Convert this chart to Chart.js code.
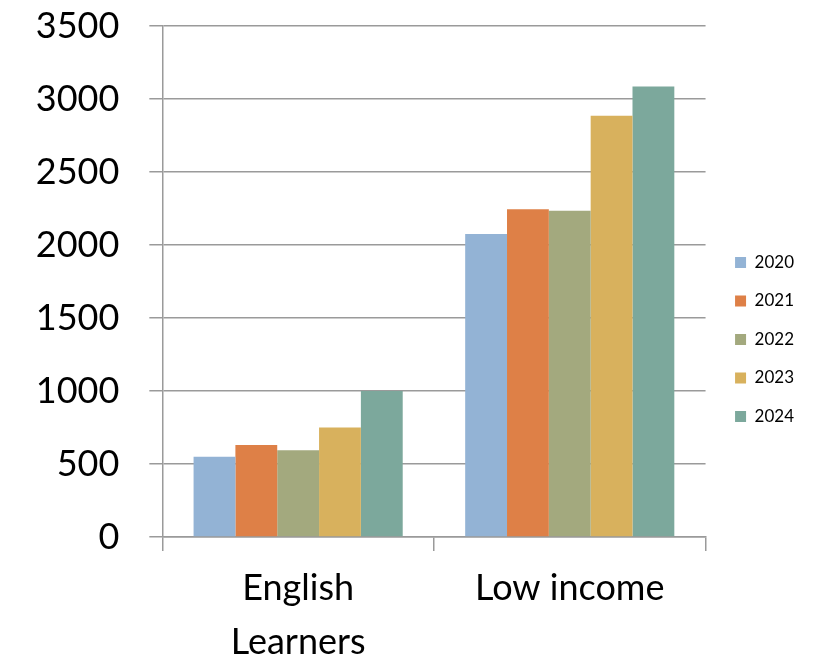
<!DOCTYPE html>
<html>
<head>
<meta charset="utf-8">
<script src="https://cdn.jsdelivr.net/npm/chart.js@4/dist/chart.umd.min.js"></script>
<style>
  html, body { margin: 0; padding: 0; background: #fff; }
  #wrap { width: 818px; height: 663px; }
</style>
</head>
<body>
<div id="wrap"><canvas id="chart"></canvas></div>
<script>
// categories (x axis) and one series per year
const categories = [['English', 'Learners'], 'Low income'];
const years = ['2020', '2021', '2022', '2023', '2024'];
const values2020 = [550, 2075];
const values2021 = [630, 2245];
const values2022 = [595, 2235];
const values2023 = [750, 2885];
const values2024 = [1000, 3085];
const yTicks = [0, 500, 1000, 1500, 2000, 2500, 3000, 3500];

const series = [values2020, values2021, values2022, values2023, values2024];
const colors = ['#93b3d5', '#de8047', '#a3a97e', '#d8b15d', '#7ca89c'];
const gridColor = '#9a9a9a';
const fontFamily = 'Lato, "Noto Sans", sans-serif';

const ctx = document.getElementById('chart').getContext('2d');
new Chart(ctx, {
  type: 'bar',
  data: {
    labels: categories,
    datasets: years.map((y, i) => ({
      label: y,
      data: series[i],
      backgroundColor: colors[i],
      borderWidth: 0,
      categoryPercentage: 0.77,
      barPercentage: 1.0
    }))
  },
  options: {
    responsive: true,
    maintainAspectRatio: false,
    animation: false,
    layout: { padding: { left: 34, top: 0, right: 14, bottom: -16 } },
    plugins: {
      tooltip: { enabled: false },
      legend: {
        position: 'right',
        labels: {
          boxWidth: 11,
          boxHeight: 11,
          padding: 21.5,
          color: '#000',
          font: { family: fontFamily, size: 17 }
        }
      }
    },
    scales: {
      x: {
        offset: true,
        grid: {
          offset: true,
          drawOnChartArea: false,
          drawTicks: true,
          tickLength: 14,
          color: gridColor,
          lineWidth: 1.5
        },
        border: { display: true, color: gridColor, width: 1.5 },
        ticks: {
          color: '#000',
          padding: 10,
          font: { family: fontFamily, size: 36, lineHeight: 1.5 },
          maxRotation: 0
        }
      },
      y: {
        min: 0,
        max: 3500,
        afterBuildTicks: axis => { axis.ticks = yTicks.map(v => ({ value: v })); },
        // tick padding would otherwise push the plot down from the top
        afterFit: s => { s.paddingTop = 26; s.paddingBottom = 0; },
        grid: {
          color: gridColor,
          lineWidth: 1.5,
          drawTicks: true,
          tickLength: 13
        },
        border: { display: true, color: gridColor, width: 1.5 },
        ticks: {
          color: '#000',
          padding: 30,
          font: { family: fontFamily, size: 36 },
          callback: v => String(v)
        }
      },
      // empty spacer between the plot and the legend
      gap: {
        axis: 'y',
        position: 'right',
        display: true,
        grid: { display: false },
        border: { display: false },
        ticks: { display: false },
        afterFit: s => { s.width = 8; }
      }
    }
  }
});
</script>
</body>
</html>
